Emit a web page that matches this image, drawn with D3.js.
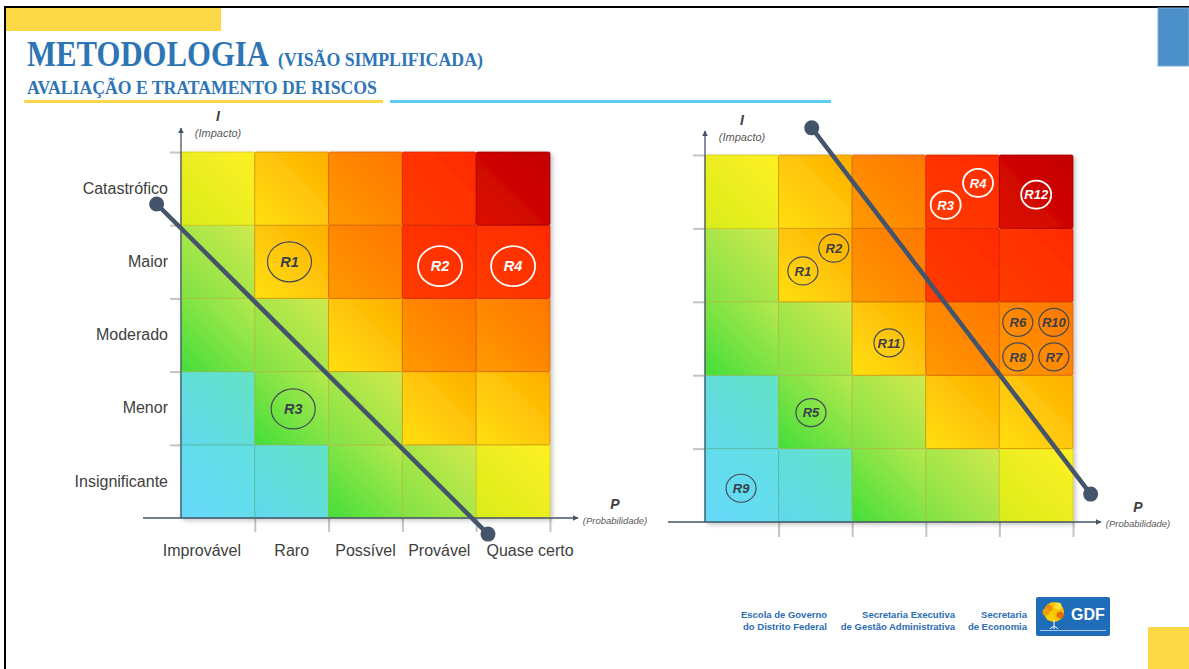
<!DOCTYPE html>
<html lang="pt-BR">
<head>
<meta charset="utf-8">
<title>Metodologia - Avaliação e Tratamento de Riscos</title>
<script src="https://cdn.jsdelivr.net/npm/d3@7"></script>
<style>
  body { margin: 0; background: #fff; }
  svg { display: block; font-family: 'Liberation Sans', Arial, sans-serif; }
</style>
</head>
<body>
<div id="chart"></div>
<script>
// categories (impact listed bottom -> top)
const probLabels = ['Improvável', 'Raro', 'Possível', 'Provável', 'Quase certo'];
const impactLabels = ['Insignificante', 'Menor', 'Moderado', 'Maior', 'Catastrófico'];

// risk level of each cell: riskLevels[impact][probability]
const riskLevels = [
  [0, 1, 2, 3, 4],
  [1, 2, 3, 5, 5],
  [2, 3, 5, 6, 6],
  [3, 5, 6, 7, 7],
  [4, 5, 6, 7, 8]
];

// left matrix risks (P and I on a 0-5 scale)
const leftIds = ['R1', 'R2', 'R3', 'R4'];
const leftProb = [1.47, 3.51, 1.52, 4.50];
const leftImpact = [3.50, 3.44, 1.49, 3.44];
const leftTrendProb = [-0.33, 4.16];
const leftTrendImpact = [4.29, -0.22];

// right matrix risks
const rightIds = ['R1', 'R2', 'R3', 'R4', 'R5', 'R6', 'R7', 'R8', 'R9', 'R10', 'R11', 'R12'];
const rightProb = [1.33, 1.75, 3.27, 3.71, 1.44, 4.25, 4.74, 4.25, 0.49, 4.74, 2.50, 4.50];
const rightImpact = [3.42, 3.73, 4.32, 4.62, 1.49, 2.72, 2.25, 2.25, 0.46, 2.72, 2.44, 4.46];
const rightTrendProb = [1.45, 5.24];
const rightTrendImpact = [5.37, 0.38];

// gradient stops per risk level (lower-left -> upper-right)
const levelColors = [
  ['#66d9fb', '#62e0e0'],
  ['#62d8ee', '#62e4c4'],
  ['#44de3a', '#b8e94e'],
  ['#80e244', '#d0ea4e'],
  ['#d8ec1c', '#fff024'],
  ['#ffe012', '#ffae00'],
  ['#ff9a00', '#ff7600'],
  ['#ff3c00', '#ff2a00'],
  ['#dc0c00', '#c20000']
];

const W = 1189, H = 669;
const axisColor = '#44546a';
const textColor = '#404040';

const svg = d3.select('#chart').append('svg')
  .attr('width', W)
  .attr('height', H);

const defs = svg.append('defs');

levelColors.forEach((c, i) => {
  const g = defs.append('linearGradient')
    .attr('id', 'lvl' + i)
    .attr('x1', 0).attr('y1', 1).attr('x2', 1).attr('y2', 0);
  g.append('stop').attr('offset', '0%').attr('stop-color', c[0]);
  g.append('stop').attr('offset', '100%').attr('stop-color', c[1]);
});

defs.append('filter').attr('id', 'shadow')
  .attr('x', '-10%').attr('y', '-10%').attr('width', '120%').attr('height', '120%')
  .append('feDropShadow')
  .attr('dx', 2).attr('dy', 2).attr('stdDeviation', 2.5)
  .attr('flood-color', '#000').attr('flood-opacity', 0.25);

defs.append('filter').attr('id', 'soft')
  .append('feGaussianBlur').attr('stdDeviation', 0.7);

defs.append('marker')
  .attr('id', 'arrow')
  .attr('viewBox', '0 0 10 10')
  .attr('refX', 9).attr('refY', 5)
  .attr('markerWidth', 6).attr('markerHeight', 6)
  .attr('markerUnits', 'userSpaceOnUse')
  .attr('orient', 'auto')
  .append('path')
  .attr('d', 'M0,0 L10,5 L0,10 Z')
  .attr('fill', axisColor);

// ---- slide frame ----
svg.append('line').attr('x1', 4).attr('x2', W).attr('y1', 7).attr('y2', 7)
  .attr('stroke', '#000').attr('stroke-width', 2);
svg.append('line').attr('x1', 5).attr('x2', 5).attr('y1', 6).attr('y2', H)
  .attr('stroke', '#000').attr('stroke-width', 2);
svg.append('rect').attr('x', 6).attr('y', 8).attr('width', 215).attr('height', 23).attr('fill', '#fcd846');
svg.append('rect').attr('x', 1158).attr('y', 8).attr('width', 31).attr('height', 58)
  .attr('fill', '#4a8fc8').attr('stroke', '#7fb0da').attr('stroke-width', 1);
svg.append('rect').attr('x', 1148).attr('y', 627).attr('width', 41).attr('height', 42).attr('fill', '#fcd846');

// ---- title (squeezed horizontally to match the narrow serif of the slide) ----
const serif = "'Liberation Serif', 'DejaVu Serif', serif";
function fitText(x, y, size, width, str) {
  const t = svg.append('text')
    .attr('font-family', serif).attr('font-weight', 'bold').attr('fill', '#2e75b6')
    .attr('font-size', size)
    .text(str);
  const k = width / t.node().getComputedTextLength();
  t.attr('transform', `translate(${x},${y}) scale(${k},1)`);
}
fitText(27, 66, 35, 242, 'METODOLOGIA');
fitText(278, 66, 19, 205, '(VISÃO SIMPLIFICADA)');
fitText(27, 94, 18.5, 350, 'AVALIAÇÃO E TRATAMENTO DE RISCOS');

svg.append('rect').attr('x', 24).attr('y', 100).attr('width', 359).attr('height', 3).attr('fill', '#fcd846');
svg.append('rect').attr('x', 390).attr('y', 100).attr('width', 441).attr('height', 3).attr('fill', '#5acbf5');

// ---- risk matrix ----
function drawMatrix(cfg) {
  const x = d3.scaleLinear().domain([0, 5]).range([cfg.x0, cfg.x1]);
  const y = d3.scaleLinear().domain([0, 5]).range([cfg.yBot, cfg.yTop]);
  const g = svg.append('g');

  // light tick marks at cell boundaries
  g.append('g')
    .attr('transform', `translate(${cfg.x0},0)`)
    .attr('filter', 'url(#soft)')
    .call(d3.axisLeft(y).tickValues([1, 2, 3, 4, 5]).tickSize(cfg.tickLen).tickFormat(''))
    .call(s => s.select('.domain').remove())
    .call(s => s.selectAll('line').attr('stroke', '#c4c4c4').attr('stroke-width', 2));

  g.append('g')
    .attr('transform', `translate(0,${cfg.yBot})`)
    .attr('filter', 'url(#soft)')
    .call(d3.axisBottom(x).tickValues([1, 2, 3, 4, 5]).tickSize(cfg.tickDown).tickFormat(''))
    .call(s => s.select('.domain').remove())
    .call(s => s.selectAll('line').attr('stroke', '#c4c4c4').attr('stroke-width', 2));

  // cells
  const cells = [];
  riskLevels.forEach((row, i) => row.forEach((lvl, p) => cells.push({ i, p, lvl })));

  g.append('g')
    .attr('filter', 'url(#shadow)')
    .selectAll('rect')
    .data(cells)
    .enter().append('rect')
    .attr('x', d => x(d.p))
    .attr('y', d => y(d.i + 1))
    .attr('width', d => x(d.p + 1) - x(d.p))
    .attr('height', d => y(d.i) - y(d.i + 1))
    .attr('rx', 1.5)
    .attr('fill', d => `url(#lvl${d.lvl})`)
    .attr('stroke', d => d3.color(levelColors[d.lvl][1]).darker(0.55))
    .attr('stroke-opacity', 0.75)
    .attr('stroke-width', 1);

  // axes with arrows
  g.append('line')
    .attr('x1', cfg.x0).attr('x2', cfg.x0)
    .attr('y1', cfg.yBot).attr('y2', cfg.yArrow)
    .attr('stroke', axisColor).attr('stroke-width', 1.3)
    .attr('marker-end', 'url(#arrow)');
  g.append('line')
    .attr('x1', cfg.xStart).attr('x2', cfg.xArrow)
    .attr('y1', cfg.yBot).attr('y2', cfg.yBot)
    .attr('stroke', axisColor).attr('stroke-width', 1.3)
    .attr('marker-end', 'url(#arrow)');

  // axis titles
  g.append('text').attr('x', cfg.iX).attr('y', cfg.iY)
    .attr('text-anchor', 'middle').attr('font-size', 14).attr('font-weight', 'bold').attr('font-style', 'italic')
    .attr('fill', '#404040').text('I');
  g.append('text').attr('x', cfg.iX).attr('y', cfg.iY + 16)
    .attr('text-anchor', 'middle').attr('font-size', 11).attr('font-style', 'italic')
    .attr('fill', '#595959').text('(Impacto)');
  g.append('text').attr('x', cfg.pX).attr('y', cfg.pY)
    .attr('text-anchor', 'middle').attr('font-size', 14).attr('font-weight', 'bold').attr('font-style', 'italic')
    .attr('fill', '#404040').text('P');
  g.append('text').attr('x', cfg.pX).attr('y', cfg.pY + 15)
    .attr('text-anchor', 'middle').attr('font-size', 9.5).attr('font-style', 'italic')
    .attr('fill', '#595959').text('(Probabilidade)');

  // category labels
  if (cfg.labels) {
    const yb = d3.scaleBand().domain(impactLabels).range([cfg.yBot, cfg.yTop]);
    g.append('g')
      .attr('transform', `translate(${cfg.x0},0)`)
      .call(d3.axisLeft(yb).tickSize(0).tickPadding(13))
      .call(s => s.select('.domain').remove())
      .call(s => s.selectAll('text').attr('font-size', 16).attr('fill', textColor)
        .attr('font-family', "'Liberation Sans', Arial, sans-serif"));

    const labelShift = { 'Improvável': -16, 'Quase certo': 17 };
    const xb = d3.scaleBand().domain(probLabels).range([cfg.x0, cfg.x1]);
    g.append('g')
      .attr('transform', `translate(0,${cfg.yBot})`)
      .call(d3.axisBottom(xb).tickSize(0).tickPadding(27))
      .call(s => s.select('.domain').remove())
      .call(s => s.selectAll('text').attr('font-size', 16).attr('fill', textColor)
        .attr('font-family', "'Liberation Sans', Arial, sans-serif")
        .attr('dx', d => labelShift[d] || 0));
  }

  // trend line
  const line = d3.line().x(d => x(d[0])).y(d => y(d[1]));
  const pts = d3.zip(cfg.trendP, cfg.trendI);
  g.append('path')
    .datum(pts)
    .attr('d', line)
    .attr('fill', 'none')
    .attr('stroke', axisColor)
    .attr('stroke-width', 4.5);
  g.selectAll('.dot')
    .data(pts)
    .enter().append('circle')
    .attr('class', 'dot')
    .attr('cx', d => x(d[0]))
    .attr('cy', d => y(d[1]))
    .attr('r', 7.5)
    .attr('fill', axisColor);

  // risk bubbles
  const risks = cfg.ids.map((id, k) => ({ id, p: cfg.prob[k], i: cfg.imp[k] }));
  const onRed = d => riskLevels[Math.floor(d.i)][Math.floor(d.p)] >= 7;

  const b = g.selectAll('.risk')
    .data(risks)
    .enter().append('g')
    .attr('class', 'risk')
    .attr('transform', d => `translate(${x(d.p)},${y(d.i)})`);
  b.append('ellipse')
    .attr('rx', cfg.rx).attr('ry', cfg.ry)
    .attr('fill', 'none')
    .attr('stroke', d => onRed(d) ? '#fff' : '#44495a')
    .attr('stroke-width', d => onRed(d) ? 1.8 : 1.2);
  b.append('text')
    .attr('text-anchor', 'middle')
    .attr('dy', '0.36em')
    .attr('font-size', cfg.fs)
    .attr('font-weight', 'bold')
    .attr('font-style', 'italic')
    .attr('fill', d => onRed(d) ? '#fff' : '#3a3f4c')
    .text(d => d.id);
}

drawMatrix({
  x0: 181, x1: 550, yTop: 152, yBot: 518,
  xStart: 143, xArrow: 578, yArrow: 128,
  tickLen: 11, tickDown: 14,
  iX: 218, iY: 121, pX: 615, pY: 509,
  labels: true,
  ids: leftIds, prob: leftProb, imp: leftImpact,
  trendP: leftTrendProb, trendI: leftTrendImpact,
  rx: 22, ry: 20, fs: 14.5
});

drawMatrix({
  x0: 705, x1: 1073, yTop: 155, yBot: 522,
  xStart: 668, xArrow: 1101, yArrow: 131,
  tickLen: 12, tickDown: 15,
  iX: 742, iY: 125, pX: 1138, pY: 512,
  labels: false,
  ids: rightIds, prob: rightProb, imp: rightImpact,
  trendP: rightTrendProb, trendI: rightTrendImpact,
  rx: 15, ry: 14, fs: 13
});

// ---- footer logos ----
const footer = svg.append('g')
  .attr('font-size', 9.5)
  .attr('font-weight', 'bold')
  .attr('fill', '#2b6cb3')
  .attr('text-anchor', 'end');
[
  [827, ['Escola de Governo', 'do Distrito Federal']],
  [955, ['Secretaria Executiva', 'de Gestão Administrativa']],
  [1027, ['Secretaria', 'de Economia']]
].forEach(([fx, lines]) => {
  lines.forEach((t, k) => {
    footer.append('text').attr('x', fx).attr('y', 618 + k * 12).text(t);
  });
});

const gdf = svg.append('g');
gdf.append('rect').attr('x', 1036).attr('y', 597).attr('width', 74).attr('height', 39).attr('rx', 2)
  .attr('fill', '#1f6cb8');
gdf.append('circle').attr('cx', 1054).attr('cy', 612).attr('r', 10).attr('fill', '#f7c600');
[[1049, 608, '#f08c00'], [1058, 606, '#ffe040'], [1060, 615, '#e86a00'], [1050, 617, '#ffd000'], [1046, 612, '#f0a000']]
  .forEach(([cx, cy, c]) => gdf.append('circle').attr('cx', cx).attr('cy', cy).attr('r', 3.5).attr('fill', c));
gdf.append('path').attr('d', 'M1054,620 L1054,629 M1050,629 Q1054,624 1058,629')
  .attr('stroke', '#fff').attr('stroke-width', 1).attr('fill', 'none');
gdf.append('line').attr('x1', 1040).attr('x2', 1106).attr('y1', 630.5).attr('y2', 630.5)
  .attr('stroke', '#cfe0f3').attr('stroke-width', 0.8);
gdf.append('text').attr('x', 1088).attr('y', 620).attr('text-anchor', 'middle')
  .attr('font-size', 16).attr('font-weight', 'bold').attr('fill', '#fff').text('GDF');
</script>
</body>
</html>
